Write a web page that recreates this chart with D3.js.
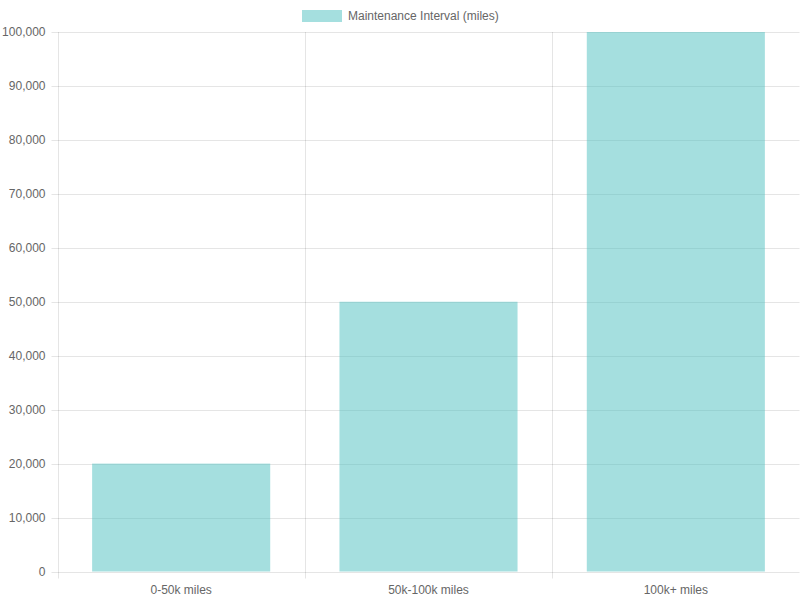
<!DOCTYPE html>
<html><head><meta charset="utf-8">
<script src="https://cdn.jsdelivr.net/npm/d3@7"></script>
<style>body{margin:0;background:#fff}text{font-family:"Liberation Sans",Arial,sans-serif}</style>
</head><body><svg id="c" width="800" height="600"></svg>
<script>
const categories = ["0-50k miles","50k-100k miles","100k+ miles"];
const values = [20000,50000,100000];
const yTicks = [0,10000,20000,30000,40000,50000,60000,70000,80000,90000,100000];
const seriesName = "Maintenance Interval (miles)";

const svg = d3.select("#c");
const L=57.5,R=799.5,T=32,B=571.5;
const x = d3.scaleBand().domain(categories).range([L,R]);
const y = d3.scaleLinear().domain([0,100000]).range([B,T]);
const grid = "rgba(0,0,0,0.1)";

// horizontal grid
svg.selectAll(".hg").data(yTicks).enter().append("line")
 .attr("x1",L-6).attr("x2",R).attr("y1",d=>Math.round(y(d))+0.5).attr("y2",d=>Math.round(y(d))+0.5)
 .attr("stroke",grid);
// vertical grid
const bounds = categories.map(c=>x(c)).concat([R]);
svg.selectAll(".vg").data(bounds).enter().append("line")
 .attr("x1",d=>Math.round(d)+0.5).attr("x2",d=>Math.round(d)+0.5).attr("y1",T).attr("y2",B+7)
 .attr("stroke",grid);

// bars
const bw = x.bandwidth()*0.72;
svg.selectAll(".bar").data(values).enter().append("rect")
 .attr("x",(d,i)=>x(categories[i])+(x.bandwidth()-bw)/2).attr("width",bw)
 .attr("y",d=>y(d)).attr("height",d=>y(0)-y(d))
 .attr("fill","rgba(75,192,192,0.5)");

// y labels
svg.selectAll(".yl").data(yTicks).enter().append("text")
 .attr("x",L-12).attr("y",d=>y(d)+4).attr("text-anchor","end")
 .attr("font-size",12).attr("fill","#666").text(d3.format(","));
// x labels
svg.selectAll(".xl").data(categories).enter().append("text")
 .attr("x",d=>x(d)+x.bandwidth()/2).attr("y",594).attr("text-anchor","middle")
 .attr("font-size",12).attr("fill","#666").text(d=>d);

// legend
svg.append("rect").attr("x",302).attr("y",10).attr("width",40).attr("height",12)
 .attr("fill","rgba(75,192,192,0.5)");
svg.append("text").attr("x",348).attr("y",20).attr("font-size",12).attr("fill","#666").text(seriesName);
</script></body></html>
